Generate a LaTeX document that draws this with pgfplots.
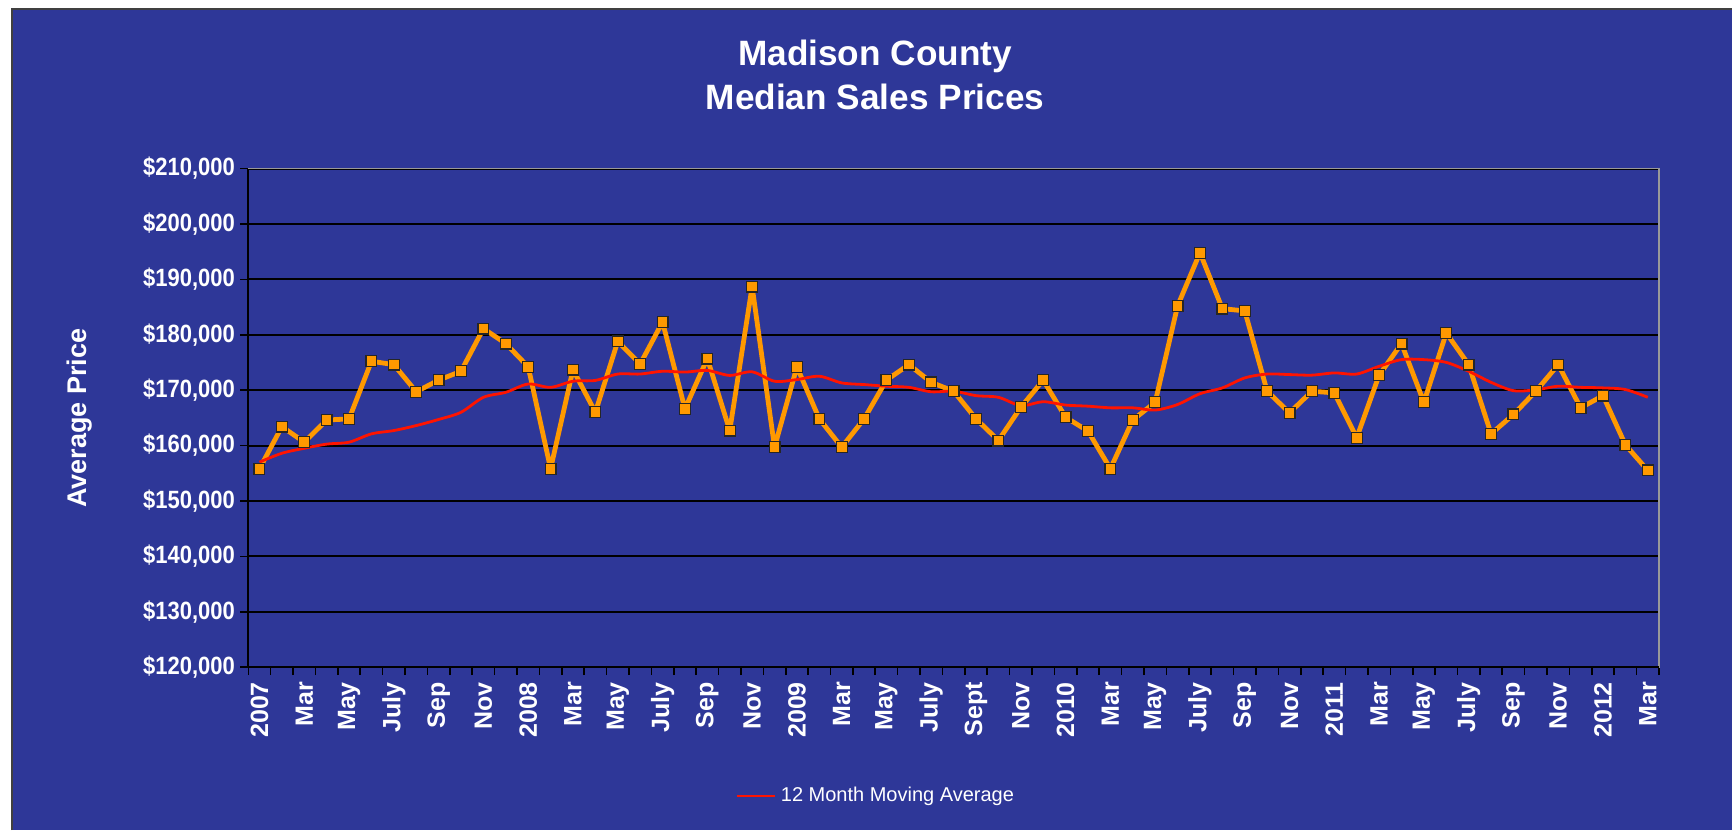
\documentclass[border=0pt]{standalone}
\usepackage{pgfplots}
\usepackage{pgfplotstable}
\pgfplotsset{compat=1.18}
\usepackage{fontspec}
\setmainfont{Liberation Sans}
\newfontfamily\narrowsans[FakeStretch=0.88]{Liberation Sans}
\definecolor{bgblue}{RGB}{46,55,152}
\definecolor{orangeL}{RGB}{255,153,0}
\definecolor{redL}{RGB}{255,20,0}
\pgfplotstableread{
x price ma
0 155800 157000
1 163400 158600
2 160600 159500
3 164600 160250
4 164800 160600
5 175200 162100
6 174600 162700
7 169700 163600
8 171800 164700
9 173400 166000
10 181100 168700
11 178400 169600
12 174200 171100
13 155800 170500
14 173700 171600
15 166000 171750
16 178800 172900
17 174700 172900
18 182300 173400
19 166600 173250
20 175700 173550
21 162700 172650
22 188700 173300
23 159700 171600
24 174200 171900
25 164800 172500
26 159700 171300
27 164800 171000
28 171800 170700
29 174600 170500
30 171400 169700
31 169800 169800
32 164800 169000
33 160900 168700
34 166900 167200
35 171800 167900
36 165100 167300
37 162600 167100
38 155800 166800
39 164600 166800
40 167800 166400
41 185200 167400
42 194800 169350
43 184700 170400
44 184300 172200
45 169800 172900
46 165900 172800
47 169800 172700
48 169500 173100
49 161400 172900
50 172700 174300
51 178400 175500
52 167800 175500
53 180300 175000
54 174600 173400
55 162100 171400
56 165600 169900
57 169800 170050
58 174600 170700
59 166800 170500
60 169000 170400
61 160100 170100
62 155500 168700
}\datatable
\begin{document}
\begin{tikzpicture}[x=0.5pt,y=0.5pt]
\path[use as bounding box, fill=white] (0,0) rectangle (1732,830);
\fill[bgblue] (12,0) rectangle (1732,821);
\draw[black!75, line width=1pt] (12,0) -- (12,821) -- (1732,821);
\node[font=\fontsize{17.6}{21}\selectfont\bfseries, text=white, anchor=base] at (875,830-66) {Madison County};
\node[font=\fontsize{17.6}{21}\selectfont\bfseries, text=white, anchor=base] at (875,830-110) {Median Sales Prices};
\node[font=\fontsize{13.5}{15}\selectfont\bfseries, text=white, rotate=90] at (80,830-418) {Average Price};
\begin{axis}[
  at={(124.15pt,81.45pt)}, anchor=south west,
  width=705.35pt, height=249.3pt, scale only axis,
  xmin=-0.5, xmax=62.5, ymin=120000, ymax=210000,
  axis line style={draw=gray!80, line width=0.8pt},
  tick align=outside,
  xtick pos=bottom, ytick pos=left,
  major tick length=4pt, minor tick length=4pt,
  ytick={120000,130000,...,210000},
  yticklabels={{\$120,000},{\$130,000},{\$140,000},{\$150,000},{\$160,000},{\$170,000},{\$180,000},{\$190,000},{\$200,000},{\$210,000}},
  scaled y ticks=false,
  ymajorgrids,
  major grid style={black, line width=1pt},
  ytick style={black, line width=0.8pt},
  yticklabel style={font=\narrowsans\fontsize{12.5}{14}\selectfont\bfseries, text=white, xshift=0.8pt},
  xtick={0,2,...,62},
  xticklabels={2007,Mar,May,July,Sep,Nov,2008,Mar,May,July,Sep,Nov,2009,Mar,May,July,Sept,Nov,2010,Mar,May,July,Sep,Nov,2011,Mar,May,July,Sep,Nov,2012,Mar},
  minor xtick={-0.5,0.5,...,62.5},
  major x tick style={draw=none},
  minor x tick style={black, line width=0.8pt},
  xticklabel style={font=\fontsize{12.5}{15}\selectfont\bfseries, text=white, rotate=90, anchor=east},
  legend style={at={(0.4457,-0.2585)}, anchor=center, draw=none, fill=none, text=white, font=\fontsize{10}{12}\selectfont},
  legend image code/.code={\draw[#1] (0pt,0pt) -- (19pt,0pt);},
  clip=false,
]
\draw[black, line width=1pt] (rel axis cs:0,0) -- (rel axis cs:0,1);
\draw[black, line width=1pt] (rel axis cs:0,0) -- (rel axis cs:1,0);
\addplot[orangeL, line width=2.4pt, line join=round, mark=square*, mark size=2.7pt,
  mark options={fill=orangeL, draw=black!85, line width=0.6pt, line join=miter}, forget plot]
  table[x=x, y=price] {\datatable};
\addplot[redL, line width=1.4pt, line join=round, smooth, tension=0.5, no marks]
  table[x=x, y=ma] {\datatable};
\addlegendentry{12 Month Moving Average}
\end{axis}
\end{tikzpicture}
\end{document}
